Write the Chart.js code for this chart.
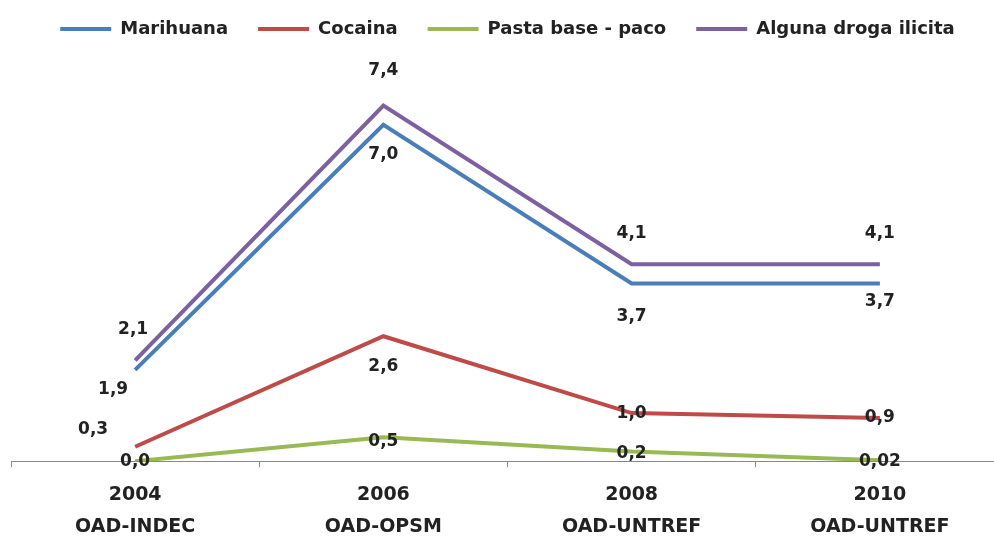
<!DOCTYPE html>
<html>
<head>
<meta charset="utf-8">
<script src="https://cdn.jsdelivr.net/npm/chart.js@4"></script>
<style>
  html, body { margin: 0; padding: 0; background: #fff; overflow: hidden; }
  #wrap { width: 1004px; height: 543px; }
</style>
</head>
<body>
<div id="wrap"><canvas id="drugChart"></canvas></div>
<script>
'use strict';

// --- data ---
const YEARS = ['2004', '2006', '2008', '2010'];
const SOURCES = ['OAD-INDEC', 'OAD-OPSM', 'OAD-UNTREF', 'OAD-UNTREF'];
const MARIHUANA = [1.9, 7.0, 3.7, 3.7];
const COCAINA = [0.3, 2.6, 1.0, 0.9];
const PASTA_BASE = [0.0, 0.5, 0.2, 0.02];
const ALGUNA = [2.1, 7.4, 4.1, 4.1];

// label offsets (dx, dy) per series/point
const LABEL_OFFSETS = [
  [[-22, 20], [0, 30], [0, 33], [0, 18]],
  [[-42, -17], [0, 30], [0, 0], [0, 0]],
  [[0, 0], [0, 4], [0, 2], [0, 1]],
  [[-2, -31], [0, -35], [0, -31], [0, -31]],
];

const fmt = v => (v > 0 && v < 0.1 ? v.toFixed(2) : v.toFixed(1)).replace('.', ',');

const valueLabels = {
  id: 'valueLabels',
  afterDatasetsDraw(chart) {
    const ctx = chart.ctx;
    ctx.save();
    ctx.font = 'bold 17px "DejaVu Sans"';
    ctx.fillStyle = '#222';
    ctx.textAlign = 'center';
    ctx.textBaseline = 'middle';
    chart.data.datasets.forEach((ds, i) => {
      chart.getDatasetMeta(i).data.forEach((pt, j) => {
        const [dx, dy] = LABEL_OFFSETS[i][j];
        ctx.fillText(fmt(ds.data[j]), pt.x + dx, pt.y + dy);
      });
    });
    ctx.restore();
  },
};

const line = (label, data, color) => ({
  label,
  data,
  borderColor: color,
  backgroundColor: color,
  borderWidth: 4,
  pointRadius: 0,
  tension: 0,
});

new Chart(document.getElementById('drugChart').getContext('2d'), {
  type: 'line',
  data: {
    labels: YEARS.map((y, i) => [y, SOURCES[i]]),
    datasets: [
      line('Marihuana', MARIHUANA, '#4a7ebb'),
      line('Cocaina', COCAINA, '#be4b48'),
      line('Pasta base - paco', PASTA_BASE, '#98b954'),
      line('Alguna droga ilicita', ALGUNA, '#7d60a0'),
    ],
  },
  options: {
    responsive: true,
    maintainAspectRatio: false,
    animation: false,
    layout: { padding: { top: -10, left: 11, right: 0, bottom: -12 } },
    plugins: {
      legend: {
        labels: {
          usePointStyle: true,
          pointStyle: 'line',
          pointStyleWidth: 51,
          boxWidth: 51,
          padding: 30,
          color: '#222',
          font: { family: 'DejaVu Sans', size: 18, weight: 'bold' },
        },
      },
      tooltip: { enabled: false },
    },
    scales: {
      x: {
        offset: true,
        grid: { display: true, offset: true, drawOnChartArea: false, tickLength: 6, color: '#888' },
        border: { color: '#888', width: 1 },
        ticks: {
          color: '#222',
          padding: 12,
          font: { family: 'DejaVu Sans', size: 19, weight: 'bold', lineHeight: 1.68 },
        },
      },
      y: { display: false, min: 0, max: 8.6 },
    },
  },
  plugins: [valueLabels],
});
</script>
</body>
</html>
